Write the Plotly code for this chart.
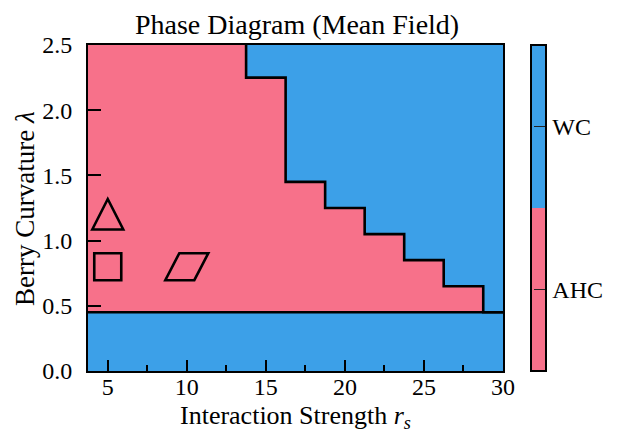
import plotly.graph_objects as go

# ---------------- data ----------------
rs = [5.0, 7.5, 10.0, 12.5, 15.0, 17.5, 20.0, 22.5, 25.0, 27.5, 30.0]
lam = [0.0, 0.1, 0.2, 0.3, 0.4, 0.5, 0.6, 0.7, 0.8, 0.9, 1.0, 1.1, 1.2,
       1.3, 1.4, 1.5, 1.6, 1.7, 1.8, 1.9, 2.0, 2.1, 2.2, 2.3, 2.4, 2.5]
# AHC phase lies between lam_lower and lam_upper (None = beyond plotted range)
lam_lower = 0.45
lam_upper = [None, None, None, None, 2.25, 1.45, 1.25, 1.05, 0.85, 0.65, 0.45]
phase_labels = ["AHC", "WC"]
marker_rs = [5.0, 5.0, 10.0]
marker_lam = [1.2, 0.8, 0.8]
marker_kind = ["triangle", "square", "parallelogram"]

# ---------------- styles ----------------
PINK = "#F7718A"
BLUE = "#3CA0E8"
FONT = "Liberation Serif"
X_RANGE = [3.75, 30]
Y_RANGE = [0, 2.5]

# phase grid: 0 = AHC, 1 = WC
z = []
for l in lam:
    row = []
    for j in range(len(rs)):
        u = lam_upper[j]
        ahc = l > lam_lower and (u is None or l < u)
        row.append(0 if ahc else 1)
    z.append(row)

# cell edges along rs
mids = [(rs[i] + rs[i + 1]) / 2 for i in range(len(rs) - 1)]
edges = [rs[0] - (rs[1] - rs[0]) / 2] + mids + [rs[-1] + (rs[-1] - rs[-2]) / 2]

# staircase boundary
sx, sy = [], []
for j in range(len(rs)):
    u = lam_upper[j]
    if u is None:
        continue
    if not sx:
        sx.append(edges[j]); sy.append(Y_RANGE[1])
    sx += [edges[j], edges[j + 1]]
    sy += [u, u]

fig = go.Figure()
fig.add_trace(go.Heatmap(
    x=rs, y=lam, z=z, zmin=-0.5, zmax=1.5,
    colorscale=[[0, PINK], [0.5, PINK], [0.5, BLUE], [1, BLUE]],
    hoverinfo="skip",
    colorbar=dict(
        tickvals=[0, 1], ticktext=phase_labels,
        x=1.0674, xanchor="left",
        y=0.5, yanchor="middle", len=1, lenmode="fraction", ypad=0, xpad=0,
        thickness=15, outlinewidth=2, outlinecolor="black",
        ticks="inside", ticklen=13, tickwidth=1, tickcolor="#222",
        tickfont=dict(family=FONT, size=24, color="black"),
    ),
))
fig.add_trace(go.Scatter(x=sx, y=sy, mode="lines",
                         line=dict(color="black", width=2.6),
                         hoverinfo="skip", showlegend=False))
fig.add_trace(go.Scatter(x=[edges[0], edges[-1]], y=[lam_lower, lam_lower],
                         mode="lines", line=dict(color="black", width=2.6),
                         hoverinfo="skip", showlegend=False))

paths = {
    "triangle": "M -15.5,-15 L 0,15.5 L 15.5,-15 Z",
    "square": "M -13.5,-13.5 L -13.5,13.5 L 13.5,13.5 L 13.5,-13.5 Z",
    "parallelogram": "M -7.5,13.5 L 21.5,13.5 L 7.5,-13.5 L -21.5,-13.5 Z",
}
for xv, yv, kind in zip(marker_rs, marker_lam, marker_kind):
    fig.add_shape(type="path", path=paths[kind], xref="x", yref="y",
                  xsizemode="pixel", ysizemode="pixel",
                  xanchor=xv, yanchor=yv,
                  line=dict(color="black", width=2.6))

axis_common = dict(showline=True, mirror=True, linewidth=2, linecolor="black",
                   ticks="inside", tickwidth=2, tickcolor="black",
                   showgrid=False, zeroline=False, automargin=False,
                   tickfont=dict(family=FONT, size=24, color="black"))
fig.update_xaxes(range=X_RANGE, tickvals=[5, 10, 15, 20, 25, 30], ticklen=11,
                 ticklabelstandoff=-7,
                 minor=dict(ticks="inside", dtick=2.5, tick0=0, ticklen=6,
                            tickwidth=1.5, tickcolor="black"),
                 **axis_common)
fig.update_yaxes(range=Y_RANGE, dtick=0.5, tickformat=".1f", ticklen=13,
                 ticklabelstandoff=9,
                 **axis_common)

fig.add_annotation(text="Interaction Strength <i>r<sub>s</sub></i>",
                   xref="paper", yref="paper", x=0.5, y=-0.14,
                   xanchor="center", yanchor="middle", showarrow=False,
                   font=dict(family=FONT, size=26, color="black"))
fig.add_annotation(text="Berry Curvature <i>λ</i>", textangle=-90,
                   xref="paper", yref="paper", x=-0.152, y=0.5,
                   xanchor="center", yanchor="middle", showarrow=False,
                   font=dict(family=FONT, size=27, color="black"))

fig.update_layout(
    width=615, height=427,
    margin=dict(l=80, r=119.5, t=37, b=64, autoexpand=False),
    paper_bgcolor="white", plot_bgcolor="white",
    title=dict(text="Phase Diagram (Mean Field)", x=0.47, xanchor="center",
               y=0.962, yanchor="middle",
               font=dict(family=FONT, size=28, color="black")),
    showlegend=False,
)
fig.write_html("out.html")
